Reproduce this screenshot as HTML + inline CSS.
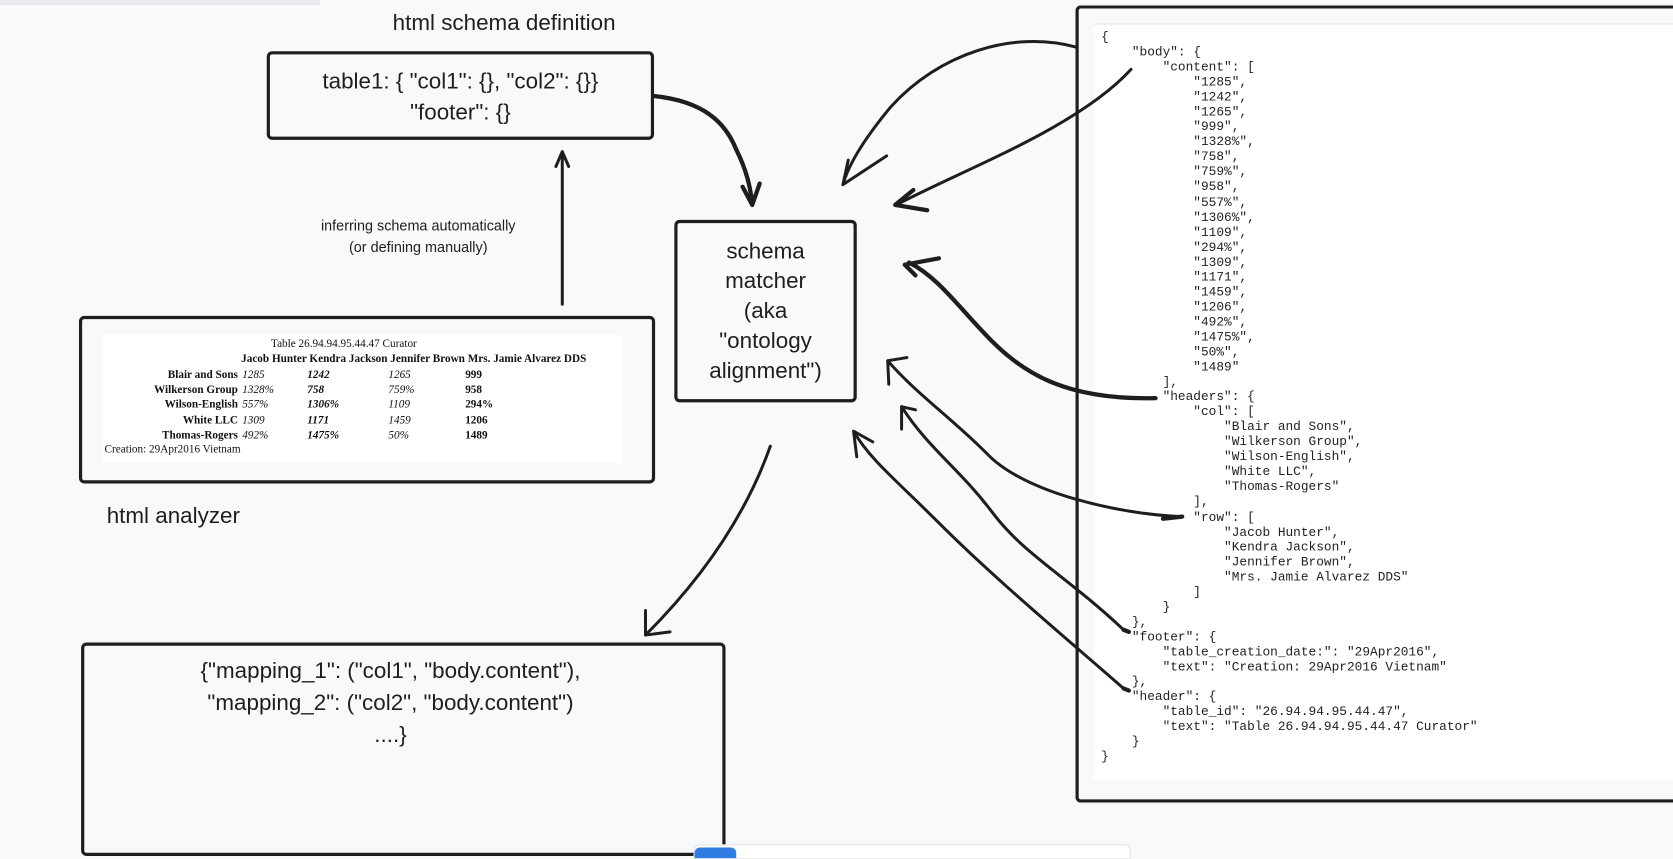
<!DOCTYPE html>
<html><head><meta charset="utf-8"><style>
html,body{margin:0;padding:0;width:1673px;height:856px;overflow:hidden;background:#f8f9fb;}
#s{position:absolute;left:0;top:0;width:1568px;height:802px;transform:scale(1.06696,1.06733);transform-origin:0 0;font-family:"Liberation Sans",sans-serif;color:#1e1e1e;}
.box{position:absolute;border:3px solid #1e1e1e;border-radius:5px;box-sizing:border-box;}
.t{position:absolute;white-space:nowrap;}
.js{position:absolute;left:1032px;top:28px;font-family:"Liberation Mono",monospace;font-size:12px;line-height:14.04px;white-space:pre;color:#222;}
.tb{position:absolute;font-family:"Liberation Serif",serif;font-size:10.5px;white-space:nowrap;color:#111;}
</style></head><body><div id="s">
<div style="position:absolute;left:0;top:0;width:300px;height:5px;background:#e9eaee;"></div>
<div class="t" style="left:368px;top:10px;font-size:21px;">html schema definition</div>
<div class="box" style="left:250px;top:48px;width:363px;height:83px;"></div>
<div class="t" style="left:250px;top:62px;width:363px;text-align:center;font-size:21px;line-height:29px;">table1: { "col1": {}, "col2": {}}<br>"footer": {}</div>
<div class="t" style="left:250px;top:202px;width:284px;text-align:center;font-size:13.5px;line-height:20px;">inferring schema automatically<br>(or defining manually)</div>
<div class="box" style="left:74px;top:296px;width:540px;height:157px;"></div>
<div style="position:absolute;left:96px;top:314px;width:487px;height:120px;background:#fff;"></div>
<div class="tb" style="left:254px;top:317px;">Table 26.94.94.95.44.47 Curator</div>
<div class="tb" style="left:226px;top:331px;font-weight:bold;">Jacob Hunter Kendra Jackson Jennifer Brown Mrs. Jamie Alvarez DDS</div>
<div class="tb" style="left:100px;top:345px;width:123px;text-align:right;font-weight:bold;line-height:14.2px;">Blair and Sons<br>Wilkerson Group<br>Wilson-English<br>White LLC<br>Thomas-Rogers</div>
<div class="tb" style="left:227px;top:345px;font-style:italic;line-height:14.2px;">1285<br>1328%<br>557%<br>1309<br>492%</div>
<div class="tb" style="left:288px;top:345px;font-style:italic;font-weight:bold;line-height:14.2px;">1242<br>758<br>1306%<br>1171<br>1475%</div>
<div class="tb" style="left:364px;top:345px;font-style:italic;line-height:14.2px;">1265<br>759%<br>1109<br>1459<br>50%</div>
<div class="tb" style="left:436px;top:345px;font-weight:bold;line-height:14.2px;">999<br>958<br>294%<br>1206<br>1489</div>
<div class="tb" style="left:98px;top:416px;">Creation: 29Apr2016 Vietnam</div>
<div class="t" style="left:100px;top:472px;font-size:21px;">html analyzer</div>
<div class="box" style="left:632px;top:206px;width:171px;height:171px;"></div>
<div class="t" style="left:632px;top:222px;width:171px;text-align:center;font-size:21px;line-height:28px;">schema<br>matcher<br>(aka<br>"ontology<br>alignment")</div>
<div class="box" style="left:76px;top:602px;width:604px;height:200px;"></div>
<div class="t" style="left:76px;top:614px;width:580px;text-align:center;font-size:21px;line-height:30px;">{"mapping_1": ("col1", "body.content"),<br>"mapping_2": ("col2", "body.content")<br>....}</div>
<div class="box" style="left:1008px;top:5px;width:600px;height:747px;border-right:none;border-radius:5px 0 0 5px;"></div>
<div style="position:absolute;left:1025px;top:22px;width:543px;height:708px;background:#fff;border-top:1px solid #e4e4e4;"></div>
<div class="js">{
    "body": {
        "content": [
            "1285",
            "1242",
            "1265",
            "999",
            "1328%",
            "758",
            "759%",
            "958",
            "557%",
            "1306%",
            "1109",
            "294%",
            "1309",
            "1171",
            "1459",
            "1206",
            "492%",
            "1475%",
            "50%",
            "1489"
        ],
        "headers": {
            "col": [
                "Blair and Sons",
                "Wilkerson Group",
                "Wilson-English",
                "White LLC",
                "Thomas-Rogers"
            ],
            "row": [
                "Jacob Hunter",
                "Kendra Jackson",
                "Jennifer Brown",
                "Mrs. Jamie Alvarez DDS"
            ]
        }
    },
    "footer": {
        "table_creation_date:": "29Apr2016",
        "text": "Creation: 29Apr2016 Vietnam"
    },
    "header": {
        "table_id": "26.94.94.95.44.47",
        "text": "Table 26.94.94.95.44.47 Curator"
    }
}</div>
<div style="position:absolute;left:650px;top:791px;width:408px;height:12px;background:#fff;border:1px solid #e5e5e5;border-radius:6px 6px 0 0;"></div>
<div style="position:absolute;left:651px;top:794px;width:39px;height:10px;background:#2f7de1;border-radius:5px 5px 0 0;"></div>
<svg style="position:absolute;left:0;top:0" width="1568" height="802" viewBox="0 0 1568 802" fill="none" stroke="#1e1e1e" stroke-linecap="round" stroke-linejoin="round">
<g stroke-width="2.8">
<path d="M527,285 L527,142 M521,156 L527,142 L533,156"/>
<path d="M722,418 C700,480 660,540 605,595 M605,572 L605,595 L628,592"/>
<path d="M1008,44 C950,28 880,50 835,100 C810,130 795,155 790,173 M790,173 L831,146 M790,173 L795,150"/>
<path d="M1060,65 C1010,120 900,160 840,192"/>
<path d="M1108,484 C1050,482 960,462 925,425 C890,390 860,370 832,338 M832,338 L850,335 M832,338 L833,360"/>
<path d="M1053,590 C1000,540 960,520 930,480 C900,440 870,420 845,381 M845,381 L845,402 M845,381 L858,384"/>
<path d="M1053,645 C990,590 930,540 880,490 C840,450 815,430 800,404 M800,404 L803,428 M800,404 L818,414"/>
</g>
<g stroke-width="4">
<path d="M613,90 C660,95 680,115 690,140 C700,160 703,175 705,190 M696,175 L705,192 L712,172"/>
<path d="M839,192 L856,178 M839,192 L869,197"/>
<path d="M1083,373 C1000,375 960,350 930,320 C900,290 880,260 852,246 M848,248 L880,242 M848,248 L858,258"/>
<path d="M1053,590 L1058,592 M1053,645 L1058,647 M1108,484 L1090,486"/>
</g>
</svg>
</div></body></html>
